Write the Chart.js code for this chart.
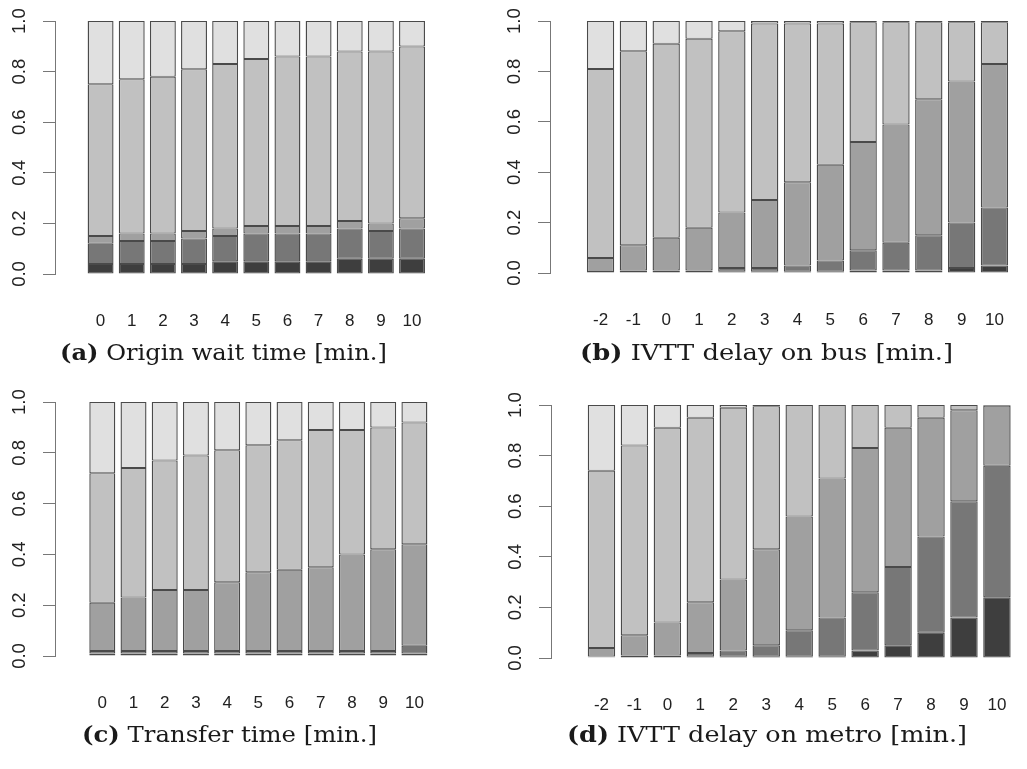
<!DOCTYPE html>
<html>
<head>
<meta charset="utf-8">
<script src="https://cdn.jsdelivr.net/npm/chart.js@4.4.0/dist/chart.umd.min.js"></script>
<style>
  html, body { margin: 0; padding: 0; background: #fff; overflow: hidden; width: 1027px; height: 769px; }
  canvas { position: absolute; }
  .cap { position: absolute; font-family: "DejaVu Serif", serif; font-size: 23px; color: #1a1a1a;
         white-space: nowrap; transform-origin: left center; }
</style>
</head>
<body>
<canvas id="chartA"></canvas>
<canvas id="chartB"></canvas>
<canvas id="chartC"></canvas>
<canvas id="chartD"></canvas>
<div class="cap" id="capA"><b>(a)</b> Origin wait time [min.]</div>
<div class="cap" id="capB"><b>(b)</b> IVTT delay on bus [min.]</div>
<div class="cap" id="capC"><b>(c)</b> Transfer time [min.]</div>
<div class="cap" id="capD"><b>(d)</b> IVTT delay on metro [min.]</div>
<script>
// category labels
const waitLabels = ['0', '1', '2', '3', '4', '5', '6', '7', '8', '9', '10'];
const delayLabels = ['-2', '-1', '0', '1', '2', '3', '4', '5', '6', '7', '8', '9', '10'];
const yTicks = [0, 0.2, 0.4, 0.6, 0.8, 1.0];

// share of each level, bottom (darkest) to top (lightest)
// (a) origin wait time
const waitL1 = [0.04, 0.04, 0.04, 0.04, 0.05, 0.05, 0.05, 0.05, 0.06, 0.06, 0.06];
const waitL2 = [0.08, 0.09, 0.09, 0.10, 0.10, 0.11, 0.11, 0.11, 0.12, 0.11, 0.12];
const waitL3 = [0.03, 0.03, 0.03, 0.03, 0.03, 0.03, 0.03, 0.03, 0.03, 0.03, 0.04];
const waitL4 = [0.60, 0.61, 0.62, 0.64, 0.65, 0.66, 0.67, 0.67, 0.67, 0.68, 0.68];
const waitL5 = [0.25, 0.23, 0.22, 0.19, 0.17, 0.15, 0.14, 0.14, 0.12, 0.12, 0.10];

// (b) IVTT delay on bus
const busL1 = [0.002, 0.01, 0.01, 0.01, 0.005, 0.005, 0.005, 0.005, 0.01, 0.01, 0.01, 0.02, 0.03];
const busL2 = [0.002, 0, 0, 0, 0.015, 0.015, 0.025, 0.045, 0.08, 0.11, 0.14, 0.18, 0.23];
const busL3 = [0.056, 0.10, 0.13, 0.17, 0.22, 0.27, 0.33, 0.38, 0.43, 0.47, 0.54, 0.56, 0.57];
const busL4 = [0.75, 0.77, 0.77, 0.75, 0.72, 0.70, 0.63, 0.56, 0.475, 0.405, 0.305, 0.235, 0.165];
const busL5 = [0.19, 0.12, 0.09, 0.07, 0.04, 0.01, 0.01, 0.01, 0.005, 0.005, 0.005, 0.005, 0.005];

// (c) transfer time
const transL1 = [0.01, 0.01, 0.01, 0.01, 0.01, 0.01, 0.01, 0.01, 0.01, 0.01, 0.01];
const transL2 = [0.01, 0.01, 0.01, 0.01, 0.01, 0.01, 0.01, 0.01, 0.01, 0.01, 0.03];
const transL3 = [0.19, 0.21, 0.24, 0.24, 0.27, 0.31, 0.32, 0.33, 0.38, 0.40, 0.40];
const transL4 = [0.51, 0.51, 0.51, 0.53, 0.52, 0.50, 0.51, 0.54, 0.49, 0.48, 0.48];
const transL5 = [0.28, 0.26, 0.23, 0.21, 0.19, 0.17, 0.15, 0.11, 0.11, 0.10, 0.08];

// (d) IVTT delay on metro
const metroL1 = [0.003, 0.01, 0.01, 0.005, 0.005, 0.005, 0.005, 0.005, 0.03, 0.05, 0.10, 0.16, 0.24];
const metroL2 = [0.003, 0, 0, 0.015, 0.025, 0.045, 0.105, 0.155, 0.23, 0.31, 0.38, 0.46, 0.52];
const metroL3 = [0.034, 0.08, 0.13, 0.20, 0.28, 0.38, 0.45, 0.55, 0.57, 0.55, 0.47, 0.36, 0.237];
const metroL4 = [0.70, 0.75, 0.77, 0.73, 0.68, 0.565, 0.44, 0.29, 0.17, 0.09, 0.05, 0.02, 0.003];
const metroL5 = [0.26, 0.16, 0.09, 0.05, 0.01, 0.005, 0, 0, 0, 0, 0, 0, 0];

const levelColors = ['#3e3e3e', '#777777', '#a0a0a0', '#c1c1c1', '#e0e0e0'];

// panel placement: canvas box + plot-area edges (px)
const panels = [
  { id: 'chartA', x: 0,   y: 0,   left: 55,  top: 20,  bottom: 274, right: 457.6,  xMin: -0.876, xMax: 10.876, labels: waitLabels,  levels: [waitL1, waitL2, waitL3, waitL4, waitL5] },
  { id: 'chartB', x: 495, y: 0,   left: 550, top: 20,  bottom: 273, right: 1045,   xMin: -0.96,  xMax: 12.96,  labels: delayLabels, levels: [busL1, busL2, busL3, busL4, busL5] },
  { id: 'chartC', x: 0,   y: 381, left: 55,  top: 401, bottom: 656, right: 461.7,  xMin: -0.923, xMax: 10.923, labels: waitLabels,  levels: [transL1, transL2, transL3, transL4, transL5] },
  { id: 'chartD', x: 496, y: 384, left: 551, top: 404, bottom: 658, right: 1047.4, xMin: -0.952, xMax: 12.952, labels: delayLabels, levels: [metroL1, metroL2, metroL3, metroL4, metroL5] }
];

const captions = [
  { id: 'capA', left: 60,  width: 327, cy: 351 },
  { id: 'capB', left: 580, width: 373, cy: 351 },
  { id: 'capC', left: 82,  width: 295, cy: 733 },
  { id: 'capD', left: 567, width: 400, cy: 733 }
];

const Y_AXIS_W = 55;
const X_AXIS_H = 70;
const tickFont = { family: 'Liberation Sans, Arial, sans-serif', size: 17 };

function makePanel(p) {
  const cv = document.getElementById(p.id);
  const w = Math.ceil(p.right - p.x + 10);
  const h = Math.ceil(p.bottom - p.y + X_AXIS_H);
  cv.width = w; cv.height = h;
  cv.style.left = p.x + 'px';
  cv.style.top = p.y + 'px';

  const datasets = p.levels.map((vals, i) => ({
    data: vals.map((v, j) => ({ x: j, y: v })),
    backgroundColor: levelColors[i],
    borderColor: '#4a4a4a',
    borderWidth: { top: 1, bottom: 1, left: 1.4, right: 1.4 },
    borderSkipped: false,
    categoryPercentage: 1,
    barPercentage: 0.833
  }));

  new Chart(cv, {
    type: 'bar',
    data: { datasets },
    options: {
      responsive: false,
      animation: false,
      events: [],
      plugins: { legend: { display: false }, tooltip: { enabled: false } },
      layout: { padding: { left: p.left - p.x - Y_AXIS_W, top: p.top - p.y, right: w - (p.right - p.x), bottom: h - (p.bottom - p.y) - X_AXIS_H } },
      scales: {
        x: {
          type: 'linear', stacked: true, min: p.xMin, max: p.xMax,
          grid: { display: false }, border: { display: false },
          ticks: {
            stepSize: 1, autoSkip: false, includeBounds: false, maxRotation: 0,
            padding: 29, font: tickFont, color: '#222',
            callback: v => (Number.isInteger(v) && p.labels[v] !== undefined) ? p.labels[v] : ''
          },
          afterFit: s => { s.height = X_AXIS_H; }
        },
        y: {
          stacked: true, min: 0, max: 1,
          afterBuildTicks: s => { s.ticks = yTicks.map(v => ({ value: v })); },
          grid: { display: true, drawOnChartArea: false, drawTicks: true, tickLength: 12, color: '#777' },
          border: { display: true, color: '#777', width: 1 },
          ticks: {
            minRotation: 90, maxRotation: 90, crossAlign: 'center', padding: 10,
            font: { family: 'Liberation Sans, Arial, sans-serif', size: 18.5 }, color: '#222',
            callback: v => Number(v).toFixed(1)
          },
          afterFit: s => { s.width = Y_AXIS_W; }
        }
      }
    }
  });
}

panels.forEach(makePanel);

captions.forEach(c => {
  const el = document.getElementById(c.id);
  const r = el.getBoundingClientRect();
  el.style.left = c.left + 'px';
  el.style.top = (c.cy - r.height / 2) + 'px';
  el.style.transform = 'scaleX(' + (c.width / r.width).toFixed(3) + ')';
});
</script>
</body>
</html>
